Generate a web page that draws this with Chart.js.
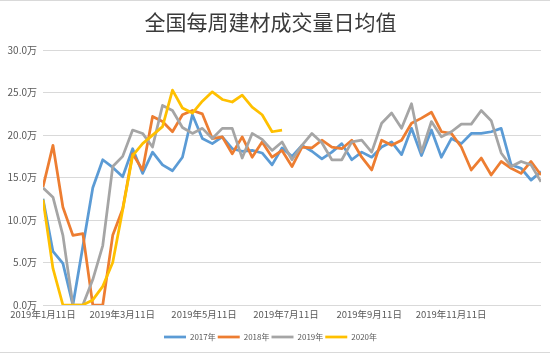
<!DOCTYPE html>
<html><head><meta charset="utf-8">
<script src="https://cdn.jsdelivr.net/npm/chart.js@4/dist/chart.umd.min.js"></script>
<style>
html,body{margin:0;padding:0;background:#fff;}
#wrap{position:relative;width:550px;height:354px;overflow:hidden;background:#fff;}
#c{position:absolute;left:0;top:0;}
.ln{position:absolute;left:0;width:550px;height:1px;background:#d9d9d9;}
</style></head><body>
<div id="wrap"><canvas id="c" width="550" height="354"></canvas><div class="ln" style="top:0"></div><div class="ln" style="top:352px"></div></div>
<script>
const chartTitle = '全国每周建材成交量日均值';
const seriesNames = ['2017年', '2018年', '2019年', '2020年'];
const seriesColors = ['#5B9BD5', '#ED7D31', '#A5A5A5', '#FFC000'];
// weekly values (万), 51 weeks on the shared 2019 date axis
const s2017 = [12.5, 6.3, 4.9, 0, 6.9, 13.8, 17.1, 16.2, 15.1, 18.4,
  15.5, 18, 16.5, 15.8, 17.4, 22.4, 19.6, 19, 19.8, 18.4,
  18.1, 18.2, 17.9, 16.5, 18.5, 17.5, 18.8, 18.1, 17.2, 18,
  19, 17.1, 18, 17.4, 18.6, 19.2, 17.7, 20.8, 17.6, 20.6,
  17.4, 19.6, 19, 20.2, 20.2, 20.4, 20.8, 16.5, 16.1, 14.7,
  15.7];
const s2018 = [13.9, 18.8, 11.5, 8.2, 8.4, 0, 0, 8.2, 11.3, 17.8,
  15.9, 22.2, 21.6, 20.4, 22.4, 22.9, 22.5, 19.6, 19.8, 17.8,
  19.8, 17.4, 19.2, 17.4, 18.2, 16.3, 18.6, 18.5, 19.4, 18.6,
  18.4, 19.4, 17.4, 15.9, 19.4, 18.8, 19.4, 21.4, 22, 22.7,
  20.4, 20.2, 18.6, 15.9, 17.3, 15.3, 16.9, 16.1, 15.5, 16.9,
  15.3];
const s2019 = [13.8, 12.7, 8.2, 0, 0, 3, 7, 16.3, 17.5, 20.6,
  20.2, 18.6, 23.5, 22.9, 20.9, 20.2, 20.8, 19.6, 20.8, 20.8,
  17.3, 20.2, 19.5, 18.2, 19.2, 17.1, 18.8, 20.2, 19.1, 17.1,
  17.1, 19.2, 19.4, 18, 21.4, 22.6, 20.8, 23.7, 18, 21.6,
  19.8, 20.4, 21.3, 21.3, 22.9, 21.7, 17.9, 16.3, 16.9, 16.5,
  14.5];
const s2020 = [12.4, 4.3, 0, 0, 0, 0.6, 2.2, 5, 11.2, 17.6,
  19, 20, 21, 25.3, 23.2, 22.6, 24, 25.1, 24.2, 23.9,
  24.7, 23.3, 22.4, 20.4, 20.6];
const tickLabels = ['2019年1月11日', '2019年3月11日', '2019年5月11日', '2019年7月11日', '2019年9月11日', '2019年11月11日'];
const tickDates = ['2019-01-11', '2019-03-11', '2019-05-11', '2019-07-11', '2019-09-11', '2019-11-11'];
const axisStart = '2019-01-11', axisEnd = '2020-01-17';
const yMax = 30, yStep = 5;

const allSeries = [s2017, s2018, s2019, s2020];
const nPts = s2017.length;
const dayOf = d => (Date.parse(d) - Date.parse(axisStart)) / 86400000;
const span = dayOf(axisEnd);
const tickPos = tickDates.map(d => dayOf(d) / span * (nPts - 1));

const font = 'Noto Sans CJK SC';
const datasets = allSeries.map((s, k) => ({
  label: seriesNames[k],
  data: s.map((v, i) => ({x: i, y: v})),
  borderColor: seriesColors[k],
  backgroundColor: seriesColors[k],
  borderWidth: 2.75,
  pointRadius: 0,
  tension: 0,
  order: allSeries.length - 1 - k,
  borderJoinStyle: 'round'
}));

new Chart(document.getElementById('c'), {
  type: 'line',
  data: {datasets},
  options: {
    responsive: false,
    animation: false,
    devicePixelRatio: 1,
    layout: {padding: {left: 0, right: 9, top: 0, bottom: 3}},
    plugins: {
      title: {display: true, text: chartTitle, color: '#3a3a3a',
        font: {family: font, size: 21, weight: 'normal'}, padding: {top: 9, bottom: 16}},
      legend: {position: 'bottom',
        labels: {usePointStyle: true, pointStyle: 'line', pointStyleWidth: 22, padding: 2,
          color: '#595959', font: {family: font, size: 8},
          sort: (a, b) => a.datasetIndex - b.datasetIndex}},
      tooltip: {enabled: false}
    },
    scales: {
      x: {type: 'linear', min: 0, max: nPts - 1,
        grid: {display: false, drawTicks: false}, border: {display: false},
        afterBuildTicks: s => { s.ticks = tickPos.map(v => ({value: v})); },
        afterFit: s => { s.height = 26; },
        ticks: {autoSkip: false, maxRotation: 0, padding: 4, color: '#595959',
          font: {family: font, size: 9.5}, callback: (v, i) => tickLabels[i]}},
      y: {min: 0, max: yMax,
        grid: {color: '#d9d9d9', lineWidth: 1, drawTicks: false}, border: {display: false},
        afterFit: s => { s.width = 43; },
        ticks: {stepSize: yStep, padding: 6, color: '#595959',
          font: {family: font, size: 10}, callback: v => v.toFixed(1) + '万'}}
    }
  }
});
</script>
</body></html>
